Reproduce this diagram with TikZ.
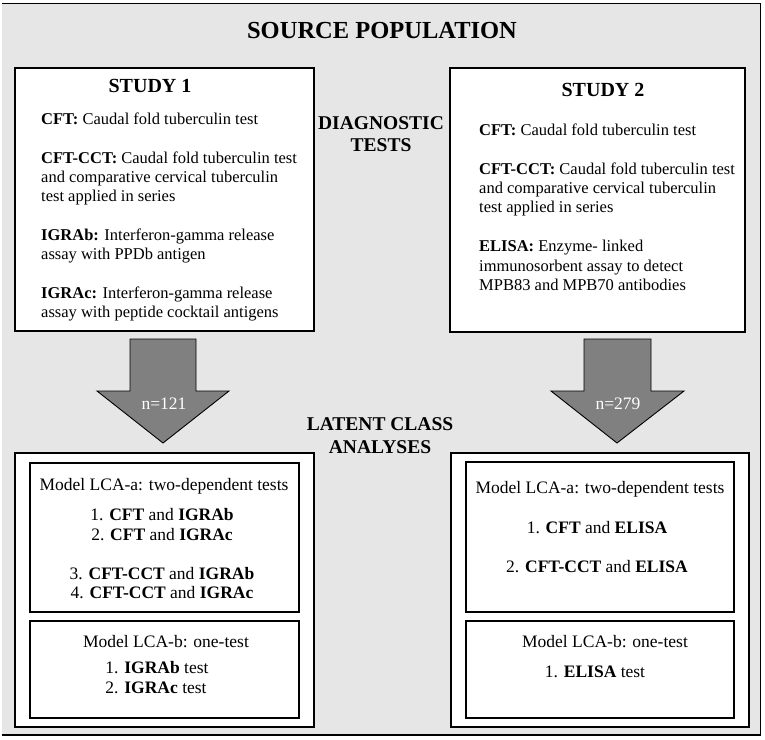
\documentclass[tikz,border=0pt]{standalone}
\usepackage{fontspec}
\setmainfont{Liberation Serif}
\definecolor{bg}{HTML}{E6E6E6}
\definecolor{arrowgray}{HTML}{808080}
\begin{document}
\begin{tikzpicture}[x=1pt,y=-1pt,
  frame/.style={fill=bg, anchor=north west, inner sep=0pt},
  frameline/.style={draw=black, line width=1.6pt},
  box/.style={draw=black, line width=2pt, fill=white, anchor=north west, inner sep=0pt},
  inbox/.style={draw=black, line width=1.8pt, fill=white, anchor=north west, inner sep=0pt},
  bigarrow/.style={draw=black, line width=0.9pt, fill=arrowgray},
  title/.style={font=\fontsize{24.5}{28}\selectfont\bfseries, anchor=base, inner sep=0pt},
  study/.style={font=\fontsize{20}{24}\selectfont\bfseries, anchor=base, inner sep=0pt},
  side/.style={font=\fontsize{19.5}{23}\selectfont\bfseries, anchor=base, inner sep=0pt},
  body/.style={font=\fontsize{16.5}{19}\selectfont, anchor=base west, inner sep=0pt},
  model/.style={font=\fontsize{17.5}{20}\selectfont, anchor=base, inner sep=0pt},
  nlab/.style={font=\fontsize{17.5}{20}\selectfont, text=white, anchor=base, inner sep=0pt}]
\useasboundingbox (0,0) rectangle (765,739);
\node[frame, minimum width=758pt, minimum height=731pt] (pop) at (2,3.5) {};
\draw[frameline] (pop.north west) -- (pop.north east) -- (pop.south east) -- (pop.south west);
\node[title] (poptitle) at (382,38) {SOURCE POPULATION};
% study boxes
\node[box, minimum width=299pt, minimum height=263pt] (s1) at (14,67) {};
\node[box, minimum width=295pt, minimum height=264pt] (s2) at (449,67) {};
\node[study] (s1t) at (150,92) {STUDY 1};
\node[study] (s2t) at (603,96) {STUDY 2};
% study 1 text
\node[body] (a1) at (41,124) {\textbf{CFT:} Caudal fold tuberculin test};
\node[body] (a2) at (41,163) {\textbf{CFT-CCT:} Caudal fold tuberculin test};
\node[body] (a3) at (41,182) {and comparative cervical tuberculin};
\node[body] (a4) at (41,201) {test applied in series};
\node[body] (a5) at (41,240) {\textbf{IGRAb:} Interferon-gamma release};
\node[body] (a6) at (41,259) {assay with PPDb antigen};
\node[body] (a7) at (41,298) {\textbf{IGRAc:} Interferon-gamma release};
\node[body] (a8) at (41,317) {assay with peptide cocktail antigens};
% study 2 text
\node[body] (b1) at (479,135) {\textbf{CFT:} Caudal fold tuberculin test};
\node[body] (b2) at (479,174) {\textbf{CFT-CCT:} Caudal fold tuberculin test};
\node[body] (b3) at (479,193) {and comparative cervical tuberculin};
\node[body] (b4) at (479,212) {test applied in series};
\node[body] (b5) at (479,251) {\textbf{ELISA:} Enzyme- linked};
\node[body] (b6) at (479,271) {immunosorbent assay to detect};
\node[body] (b7) at (479,290) {MPB83 and MPB70 antibodies};
% side labels
\node[side] (d1) at (381,129) {DIAGNOSTIC};
\node[side] (d2) at (381,151) {TESTS};
\node[side] (l1) at (380,430) {LATENT CLASS};
\node[side] (l2) at (380,453) {ANALYSES};
% arrows
\draw[bigarrow] (130,339) -- (196,339) -- (196,391) -- (229,391) -- (163,443) -- (97,391) -- (130,391) -- cycle;
\draw[bigarrow] (584,339) -- (651,339) -- (651,391) -- (684,391) -- (617,443) -- (551,391) -- (584,391) -- cycle;
\node[nlab] (n1) at (164,409) {n=121};
\node[nlab] (n2) at (618,409) {n=279};
% bottom boxes
\node[box, minimum width=299pt, minimum height=274pt] (c1) at (14,452) {};
\node[box, minimum width=298pt, minimum height=274pt] (c2) at (450,452) {};
\node[inbox, minimum width=269pt, minimum height=149pt] (c1a) at (29,462) {};
\node[inbox, minimum width=269pt, minimum height=97pt] (c1b) at (29,620) {};
\node[inbox, minimum width=268pt, minimum height=150pt] (c2a) at (465,461) {};
\node[inbox, minimum width=268pt, minimum height=97pt] (c2b) at (465,620) {};
% left models
\node[model] (m1) at (164,490) {Model LCA-a: two-dependent tests};
\node[model] (m2) at (162,520) {1. \textbf{CFT} and \textbf{IGRAb}};
\node[model] (m3) at (162,540) {2. \textbf{CFT} and \textbf{IGRAc}};
\node[model] (m4) at (162,579) {3. \textbf{CFT-CCT} and \textbf{IGRAb}};
\node[model] (m5) at (162,598) {4. \textbf{CFT-CCT} and \textbf{IGRAc}};
\node[model] (m6) at (166,647) {Model LCA-b: one-test};
\node[model] (m7) at (157,673) {1. \textbf{IGRAb} test};
\node[model] (m8) at (156,693) {2. \textbf{IGRAc} test};
% right models
\node[model] (r1) at (600,493) {Model LCA-a: two-dependent tests};
\node[model] (r2) at (597,533) {1. \textbf{CFT} and \textbf{ELISA}};
\node[model] (r3) at (597,572) {2. \textbf{CFT-CCT} and \textbf{ELISA}};
\node[model] (r4) at (605,647) {Model LCA-b: one-test};
\node[model] (r5) at (595,677) {1. \textbf{ELISA} test};
\end{tikzpicture}
\end{document}
